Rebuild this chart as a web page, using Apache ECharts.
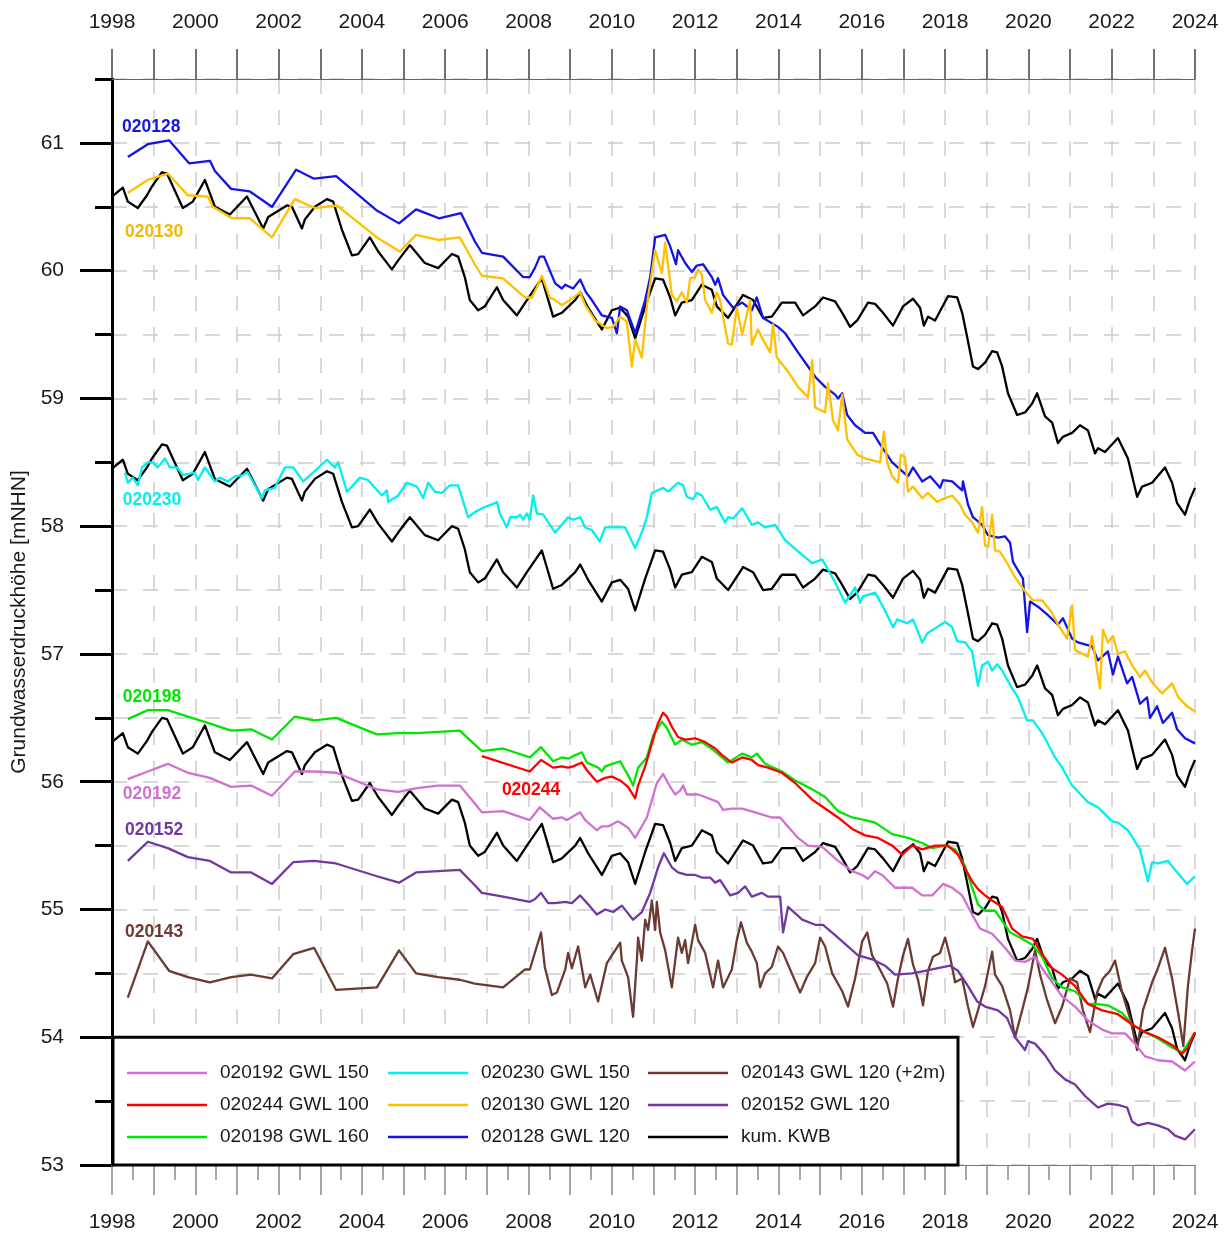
<!DOCTYPE html>
<html><head><meta charset="utf-8">
<script src="https://cdn.jsdelivr.net/npm/echarts@6/dist/echarts.min.js"></script>
<style>html,body{margin:0;padding:0;background:#fff}#c{width:1227px;height:1236px}</style>
</head><body><div id="c"></div>
<script>
const FONT = "'Liberation Sans', Arial, sans-serif";
const X_MIN = 1998, X_MAX = 2024, Y_MIN = 53, Y_MAX = 61.5;
const xLabelYears = [1998,2000,2002,2004,2006,2008,2010,2012,2014,2016,2018,2020,2022,2024];
const yTickLabels = [53,54,55,56,57,58,59,60,61];

// cumulative climatic water balance (plotted three times with offsets)
const kwb = [[1998.00,60.58],[1998.26,60.65],[1998.38,60.54],[1998.62,60.49],[1998.84,60.59],[1998.96,60.66],[1999.20,60.77],[1999.32,60.76],[1999.70,60.49],[1999.94,60.54],[2000.23,60.71],[2000.47,60.50],[2000.83,60.44],[2001.24,60.58],[2001.63,60.33],[2001.75,60.42],[2002.20,60.51],[2002.32,60.50],[2002.56,60.33],[2002.63,60.40],[2002.87,60.50],[2003.16,60.56],[2003.31,60.54],[2003.52,60.32],[2003.76,60.12],[2003.91,60.13],[2004.19,60.26],[2004.39,60.15],[2004.72,60.01],[2004.87,60.08],[2005.15,60.20],[2005.51,60.06],[2005.83,60.02],[2006.16,60.13],[2006.31,60.11],[2006.47,59.95],[2006.59,59.77],[2006.79,59.69],[2006.95,59.72],[2007.24,59.87],[2007.39,59.77],[2007.72,59.65],[2007.96,59.77],[2008.32,59.94],[2008.59,59.64],[2008.80,59.67],[2009.12,59.77],[2009.24,59.83],[2009.43,59.71],[2009.76,59.54],[2010.00,59.69],[2010.20,59.71],[2010.39,59.64],[2010.56,59.47],[2010.80,59.72],[2011.04,59.94],[2011.23,59.93],[2011.40,59.79],[2011.52,59.65],[2011.68,59.75],[2011.92,59.77],[2012.16,59.89],[2012.40,59.85],[2012.52,59.72],[2012.79,59.63],[2013.15,59.81],[2013.39,59.77],[2013.63,59.63],[2013.84,59.64],[2014.08,59.75],[2014.40,59.75],[2014.59,59.65],[2014.88,59.72],[2015.07,59.79],[2015.36,59.76],[2015.53,59.67],[2015.72,59.56],[2015.89,59.61],[2016.15,59.75],[2016.32,59.74],[2016.51,59.67],[2016.75,59.57],[2016.99,59.72],[2017.23,59.78],[2017.40,59.71],[2017.49,59.57],[2017.59,59.64],[2017.76,59.61],[2018.07,59.80],[2018.29,59.79],[2018.41,59.67],[2018.53,59.48],[2018.67,59.25],[2018.79,59.23],[2018.96,59.28],[2019.13,59.37],[2019.25,59.36],[2019.37,59.25],[2019.51,59.04],[2019.73,58.87],[2019.92,58.89],[2020.09,58.96],[2020.21,59.04],[2020.40,58.86],[2020.57,58.81],[2020.71,58.65],[2020.83,58.70],[2021.05,58.73],[2021.24,58.79],[2021.43,58.75],[2021.60,58.57],[2021.67,58.61],[2021.84,58.58],[2022.15,58.69],[2022.39,58.53],[2022.61,58.23],[2022.73,58.31],[2022.97,58.34],[2023.28,58.46],[2023.45,58.34],[2023.57,58.18],[2023.76,58.09],[2023.88,58.21],[2024.00,58.30]];
const kwbOffsets = [0, -2.13, -4.27];

const gw020128 = [[1998.38,60.89],[1998.86,60.99],[1999.37,61.02],[1999.85,60.84],[2000.35,60.86],[2000.47,60.78],[2000.86,60.64],[2001.31,60.62],[2001.84,60.50],[2002.42,60.79],[2002.85,60.72],[2003.38,60.74],[2004.36,60.47],[2004.89,60.37],[2005.30,60.48],[2005.85,60.41],[2006.38,60.45],[2006.71,60.23],[2006.88,60.14],[2007.39,60.11],[2007.87,59.95],[2008.03,59.95],[2008.15,60.02],[2008.27,60.11],[2008.37,60.11],[2008.64,59.90],[2008.80,59.86],[2008.88,59.89],[2009.07,59.86],[2009.24,59.93],[2009.38,59.83],[2009.52,59.77],[2009.76,59.65],[2010.00,59.63],[2010.12,59.51],[2010.20,59.72],[2010.36,59.69],[2010.56,59.51],[2010.80,59.77],[2010.92,59.95],[2011.04,60.26],[2011.28,60.28],[2011.40,60.19],[2011.54,60.05],[2011.59,60.16],[2011.76,60.06],[2011.92,59.99],[2012.04,60.04],[2012.19,60.05],[2012.40,59.95],[2012.48,59.89],[2012.55,59.94],[2012.67,59.81],[2012.91,59.71],[2013.13,59.75],[2013.36,59.69],[2013.48,59.79],[2013.63,59.63],[2013.99,59.56],[2014.16,59.51],[2014.47,59.36],[2014.71,59.25],[2014.88,59.17],[2015.12,59.09],[2015.36,59.03],[2015.43,59.00],[2015.53,59.04],[2015.65,58.87],[2015.84,58.79],[2016.08,58.73],[2016.27,58.73],[2016.44,58.64],[2016.73,58.50],[2017.11,58.39],[2017.23,58.46],[2017.45,58.35],[2017.64,58.39],[2017.88,58.30],[2017.95,58.36],[2018.17,58.35],[2018.41,58.28],[2018.43,58.35],[2018.55,58.17],[2018.67,58.07],[2018.89,58.01],[2019.03,57.93],[2019.27,57.91],[2019.44,57.92],[2019.56,57.87],[2019.63,57.72],[2019.87,57.59],[2019.97,57.17],[2020.04,57.41],[2020.23,57.37],[2020.45,57.31],[2020.71,57.23],[2020.83,57.28],[2021.05,57.12],[2021.19,57.09],[2021.53,57.06],[2021.67,56.95],[2021.91,57.02],[2022.03,56.84],[2022.15,56.98],[2022.37,56.77],[2022.49,56.82],[2022.68,56.61],[2022.85,56.66],[2022.92,56.50],[2023.09,56.59],[2023.23,56.46],[2023.45,56.54],[2023.57,56.41],[2023.76,56.34],[2024.00,56.30]];

const gw020130 = [[1998.38,60.61],[1998.86,60.71],[1999.34,60.76],[1999.82,60.59],[2000.30,60.58],[2000.42,60.50],[2000.88,60.41],[2001.31,60.41],[2001.84,60.26],[2002.39,60.56],[2002.87,60.49],[2003.40,60.51],[2004.36,60.26],[2004.91,60.15],[2005.30,60.28],[2005.83,60.24],[2006.35,60.26],[2006.71,60.05],[2006.88,59.96],[2007.39,59.94],[2007.91,59.79],[2008.08,59.79],[2008.20,59.87],[2008.32,59.96],[2008.51,59.79],[2008.63,59.77],[2008.80,59.73],[2008.95,59.76],[2009.24,59.83],[2009.36,59.73],[2009.60,59.61],[2009.88,59.55],[2010.03,59.56],[2010.20,59.64],[2010.36,59.60],[2010.48,59.25],[2010.56,59.46],[2010.72,59.32],[2010.84,59.72],[2011.04,60.16],[2011.20,59.98],[2011.28,60.22],[2011.44,59.81],[2011.56,59.76],[2011.68,59.83],[2011.80,59.75],[2011.88,59.94],[2012.00,59.95],[2012.07,60.01],[2012.16,59.97],[2012.24,59.77],[2012.40,59.67],[2012.52,59.83],[2012.60,59.77],[2012.67,59.64],[2012.79,59.43],[2012.88,59.42],[2013.00,59.71],[2013.13,59.50],[2013.32,59.77],[2013.36,59.42],[2013.51,59.54],[2013.63,59.46],[2013.80,59.36],[2013.87,59.58],[2013.96,59.32],[2014.23,59.21],[2014.47,59.09],[2014.71,59.01],[2014.81,59.30],[2014.88,58.93],[2015.12,58.89],[2015.19,59.12],[2015.31,58.83],[2015.43,58.75],[2015.53,59.03],[2015.65,58.68],[2015.89,58.56],[2016.08,58.53],[2016.44,58.50],[2016.53,58.74],[2016.61,58.50],[2016.73,58.39],[2016.87,58.34],[2016.94,58.56],[2017.04,58.54],[2017.11,58.27],[2017.23,58.31],[2017.45,58.22],[2017.59,58.26],[2017.81,58.19],[2017.93,58.21],[2018.17,58.24],[2018.36,58.17],[2018.48,58.09],[2018.65,58.03],[2018.79,57.95],[2018.89,58.15],[2018.96,57.85],[2019.03,57.84],[2019.13,58.09],[2019.20,57.81],[2019.32,57.80],[2019.49,57.71],[2019.68,57.60],[2019.92,57.49],[2020.11,57.42],[2020.33,57.42],[2020.57,57.32],[2020.71,57.23],[2020.93,57.12],[2021.05,57.38],[2021.12,57.03],[2021.43,56.98],[2021.53,57.14],[2021.65,56.87],[2021.72,56.73],[2021.79,57.19],[2021.91,57.09],[2022.03,57.14],[2022.15,57.00],[2022.32,57.02],[2022.49,56.91],[2022.68,56.82],[2022.80,56.87],[2022.99,56.77],[2023.21,56.69],[2023.45,56.77],[2023.60,56.66],[2023.81,56.59],[2024.00,56.55]];

const gw020230 = [[1998.31,58.42],[1998.38,58.34],[1998.50,58.38],[1998.62,58.32],[1998.72,58.46],[1998.86,58.50],[1998.98,58.50],[1999.10,58.46],[1999.27,58.53],[1999.39,58.46],[1999.56,58.46],[1999.70,58.40],[1999.99,58.42],[2000.06,58.36],[2000.23,58.46],[2000.47,58.35],[2000.59,58.38],[2000.78,58.35],[2000.95,58.39],[2001.14,58.40],[2001.26,58.42],[2001.38,58.35],[2001.60,58.22],[2001.67,58.28],[2001.91,58.30],[2002.15,58.46],[2002.35,58.46],[2002.59,58.35],[2002.83,58.42],[2003.16,58.52],[2003.35,58.46],[2003.43,58.50],[2003.64,58.27],[2003.76,58.31],[2003.95,58.38],[2004.15,58.36],[2004.48,58.24],[2004.60,58.28],[2004.63,58.19],[2004.87,58.24],[2005.08,58.34],[2005.32,58.31],[2005.47,58.22],[2005.59,58.34],[2005.75,58.27],[2005.92,58.26],[2006.11,58.32],[2006.31,58.32],[2006.55,58.07],[2006.71,58.11],[2006.95,58.15],[2007.12,58.17],[2007.24,58.19],[2007.31,58.10],[2007.48,57.99],[2007.56,58.07],[2007.72,58.07],[2007.80,58.09],[2007.87,58.05],[2007.96,58.10],[2008.03,58.05],[2008.11,58.24],[2008.20,58.10],[2008.35,58.09],[2008.64,57.95],[2008.95,58.07],[2009.07,58.05],[2009.24,58.07],[2009.36,57.99],[2009.52,57.97],[2009.71,57.88],[2009.84,57.99],[2010.00,57.99],[2010.32,57.99],[2010.56,57.83],[2010.72,57.95],[2010.84,58.07],[2010.96,58.26],[2011.23,58.30],[2011.35,58.27],[2011.59,58.34],[2011.71,58.32],[2011.80,58.23],[2011.95,58.21],[2012.04,58.26],[2012.16,58.24],[2012.36,58.13],[2012.52,58.15],[2012.60,58.10],[2012.72,58.03],[2012.79,58.07],[2012.91,58.06],[2013.13,58.14],[2013.36,58.01],[2013.51,58.03],[2013.68,57.99],[2013.92,58.01],[2014.16,57.89],[2014.44,57.81],[2014.81,57.71],[2015.05,57.74],[2015.19,57.66],[2015.36,57.56],[2015.60,57.40],[2015.84,57.52],[2015.96,57.40],[2016.03,57.45],[2016.32,57.48],[2016.51,57.37],[2016.75,57.21],[2016.85,57.27],[2017.09,57.24],[2017.23,57.27],[2017.45,57.09],[2017.57,57.16],[2017.76,57.20],[2018.00,57.25],[2018.17,57.21],[2018.29,57.10],[2018.48,57.09],[2018.65,57.02],[2018.79,56.75],[2018.89,56.91],[2019.03,56.94],[2019.13,56.87],[2019.25,56.92],[2019.37,56.87],[2019.61,56.73],[2019.75,56.66],[2019.97,56.48],[2020.11,56.48],[2020.35,56.37],[2020.64,56.19],[2020.81,56.11],[2021.05,55.97],[2021.43,55.84],[2021.67,55.80],[2022.01,55.69],[2022.15,55.68],[2022.39,55.62],[2022.68,55.47],[2022.87,55.22],[2022.97,55.37],[2023.11,55.36],[2023.35,55.38],[2023.52,55.31],[2023.81,55.20],[2024.00,55.26]];

const gw020198 = [[1998.38,56.49],[1998.86,56.56],[1999.34,56.56],[1999.82,56.51],[2000.30,56.46],[2000.86,56.40],[2001.34,56.41],[2001.84,56.33],[2002.39,56.51],[2002.85,56.48],[2003.38,56.50],[2004.36,56.37],[2004.87,56.38],[2005.32,56.38],[2005.83,56.39],[2006.35,56.40],[2006.71,56.29],[2006.88,56.24],[2007.39,56.26],[2008.03,56.19],[2008.30,56.27],[2008.59,56.16],[2008.80,56.19],[2008.95,56.18],[2009.07,56.20],[2009.28,56.23],[2009.40,56.15],[2009.67,56.11],[2009.76,56.08],[2009.84,56.12],[2010.20,56.16],[2010.39,56.05],[2010.51,55.97],[2010.63,56.11],[2010.84,56.19],[2010.99,56.36],[2011.20,56.47],[2011.32,56.42],[2011.52,56.29],[2011.68,56.33],[2011.92,56.29],[2012.16,56.31],[2012.43,56.25],[2012.79,56.15],[2013.13,56.22],[2013.36,56.19],[2013.48,56.22],[2013.68,56.14],[2014.08,56.08],[2014.40,56.01],[2014.81,55.94],[2015.12,55.88],[2015.43,55.77],[2015.77,55.72],[2016.08,55.70],[2016.32,55.68],[2016.73,55.59],[2017.11,55.56],[2017.45,55.52],[2017.69,55.48],[2018.00,55.50],[2018.24,55.47],[2018.48,55.34],[2018.65,55.17],[2018.79,55.04],[2018.96,54.99],[2019.20,54.99],[2019.37,54.91],[2019.56,54.82],[2019.85,54.77],[2020.11,54.72],[2020.33,54.63],[2020.57,54.46],[2020.81,54.39],[2021.12,54.36],[2021.43,54.26],[2021.67,54.26],[2021.91,54.25],[2022.25,54.19],[2022.49,54.10],[2022.80,54.04],[2023.11,53.99],[2023.45,53.92],[2023.69,53.88],[2023.83,53.95],[2024.00,54.04]];

const gw020244 = [[2006.88,56.20],[2008.03,56.08],[2008.30,56.17],[2008.59,56.11],[2008.80,56.12],[2008.95,56.11],[2009.07,56.12],[2009.28,56.15],[2009.40,56.09],[2009.64,56.00],[2009.84,56.03],[2010.00,56.04],[2010.20,56.01],[2010.39,55.96],[2010.56,55.87],[2010.63,55.97],[2010.80,56.12],[2010.96,56.30],[2011.11,56.46],[2011.23,56.54],[2011.32,56.51],[2011.44,56.43],[2011.59,56.35],[2011.76,56.33],[2012.00,56.34],[2012.24,56.31],[2012.48,56.26],[2012.64,56.21],[2012.88,56.15],[2013.13,56.19],[2013.36,56.17],[2013.51,56.13],[2013.75,56.11],[2014.08,56.07],[2014.40,55.99],[2014.81,55.86],[2015.12,55.79],[2015.43,55.72],[2015.77,55.63],[2016.08,55.58],[2016.39,55.56],[2016.73,55.50],[2016.97,55.43],[2017.21,55.50],[2017.45,55.47],[2017.76,55.50],[2018.07,55.50],[2018.31,55.43],[2018.48,55.32],[2018.65,55.22],[2018.79,55.16],[2018.96,55.11],[2019.13,55.07],[2019.37,55.02],[2019.61,54.85],[2019.85,54.79],[2020.11,54.77],[2020.33,54.65],[2020.57,54.54],[2020.81,54.49],[2021.12,54.40],[2021.43,54.26],[2021.77,54.21],[2022.15,54.18],[2022.49,54.10],[2022.80,54.04],[2023.11,54.00],[2023.45,53.94],[2023.69,53.87],[2023.83,53.92],[2024.00,54.04]];

const gw020192 = [[1998.38,56.02],[1998.86,56.08],[1999.34,56.14],[1999.82,56.07],[2000.35,56.03],[2000.86,55.96],[2001.34,55.97],[2001.84,55.89],[2002.39,56.08],[2002.85,56.08],[2003.38,56.07],[2004.36,55.94],[2004.87,55.92],[2005.32,55.95],[2005.83,55.97],[2006.35,55.97],[2006.71,55.83],[2006.88,55.76],[2007.39,55.77],[2008.03,55.70],[2008.27,55.80],[2008.59,55.71],[2008.80,55.72],[2008.92,55.70],[2009.24,55.76],[2009.36,55.70],[2009.64,55.62],[2009.76,55.65],[2009.91,55.65],[2010.15,55.69],[2010.39,55.64],[2010.56,55.56],[2010.84,55.72],[2011.08,55.99],[2011.23,56.06],[2011.40,55.96],[2011.52,55.90],[2011.64,55.93],[2011.71,55.97],[2011.80,55.90],[2012.07,55.90],[2012.24,55.88],[2012.55,55.84],[2012.67,55.78],[2012.88,55.79],[2013.13,55.79],[2013.44,55.76],[2013.84,55.72],[2014.04,55.72],[2014.20,55.66],[2014.47,55.56],[2014.71,55.50],[2015.05,55.49],[2015.43,55.38],[2015.77,55.30],[2016.01,55.27],[2016.15,55.24],[2016.32,55.30],[2016.49,55.27],[2016.80,55.17],[2017.21,55.17],[2017.45,55.11],[2017.69,55.11],[2017.95,55.20],[2018.17,55.17],[2018.41,55.11],[2018.65,54.96],[2018.84,54.85],[2019.13,54.81],[2019.44,54.70],[2019.68,54.60],[2019.92,54.59],[2020.16,54.63],[2020.33,54.54],[2020.57,54.43],[2020.81,54.32],[2021.12,54.24],[2021.43,54.13],[2021.77,54.06],[2022.01,54.03],[2022.32,54.03],[2022.56,53.95],[2022.80,53.85],[2023.11,53.82],[2023.45,53.81],[2023.76,53.74],[2024.00,53.81]];

const gw020152 = [[1998.38,55.38],[1998.86,55.53],[1999.34,55.48],[1999.82,55.41],[2000.35,55.38],[2000.86,55.29],[2001.34,55.29],[2001.84,55.20],[2002.35,55.37],[2002.85,55.38],[2003.38,55.36],[2004.36,55.26],[2004.89,55.21],[2005.30,55.29],[2005.83,55.30],[2006.35,55.31],[2006.71,55.19],[2006.88,55.13],[2007.39,55.10],[2008.03,55.06],[2008.15,55.08],[2008.30,55.13],[2008.47,55.05],[2008.63,55.05],[2008.88,55.06],[2009.04,55.05],[2009.24,55.11],[2009.43,55.04],[2009.64,54.96],[2009.84,55.00],[2010.03,54.98],[2010.24,55.03],[2010.51,54.92],[2010.72,54.98],[2010.92,55.13],[2011.11,55.33],[2011.25,55.44],[2011.44,55.33],[2011.59,55.29],[2011.80,55.27],[2012.00,55.27],[2012.16,55.25],[2012.36,55.25],[2012.48,55.21],[2012.60,55.23],[2012.84,55.11],[2013.03,55.13],[2013.20,55.18],[2013.36,55.10],[2013.60,55.13],[2013.75,55.10],[2014.04,55.10],[2014.11,54.82],[2014.23,55.02],[2014.57,54.92],[2014.88,54.88],[2015.07,54.88],[2015.36,54.80],[2015.53,54.75],[2015.91,54.64],[2016.25,54.61],[2016.56,54.56],[2016.80,54.49],[2017.21,54.50],[2017.52,54.52],[2017.83,54.54],[2018.12,54.56],[2018.31,54.52],[2018.55,54.40],[2018.77,54.28],[2018.96,54.24],[2019.27,54.21],[2019.49,54.15],[2019.68,54.00],[2019.92,53.90],[2019.99,53.97],[2020.16,53.95],[2020.40,53.86],[2020.64,53.74],[2020.88,53.67],[2021.12,53.63],[2021.36,53.54],[2021.53,53.49],[2021.67,53.45],[2021.91,53.48],[2022.15,53.47],[2022.37,53.45],[2022.49,53.34],[2022.63,53.31],[2022.87,53.33],[2023.11,53.31],[2023.35,53.28],[2023.52,53.23],[2023.76,53.20],[2024.00,53.28]];

const gw020143 = [[1998.38,54.31],[1998.86,54.75],[1999.37,54.52],[1999.82,54.47],[2000.35,54.43],[2000.86,54.47],[2001.34,54.49],[2001.84,54.46],[2002.35,54.65],[2002.85,54.70],[2003.38,54.37],[2004.36,54.39],[2004.89,54.68],[2005.30,54.50],[2005.83,54.47],[2006.35,54.45],[2006.71,54.42],[2007.39,54.39],[2007.91,54.53],[2008.03,54.53],[2008.30,54.82],[2008.39,54.55],[2008.56,54.33],[2008.68,54.35],[2008.88,54.53],[2008.95,54.66],[2009.04,54.54],[2009.19,54.71],[2009.36,54.39],[2009.48,54.49],[2009.67,54.28],[2009.88,54.58],[2010.20,54.74],[2010.24,54.60],[2010.39,54.47],[2010.51,54.16],[2010.60,54.60],[2010.63,54.78],[2010.72,54.60],[2010.80,54.92],[2010.87,54.84],[2010.96,55.07],[2011.04,54.84],[2011.08,55.06],[2011.16,54.82],[2011.28,54.68],[2011.44,54.39],[2011.59,54.78],[2011.68,54.66],[2011.76,54.76],[2011.83,54.58],[2012.00,54.88],[2012.07,54.76],[2012.24,54.66],[2012.43,54.39],[2012.55,54.60],[2012.67,54.39],[2012.88,54.53],[2013.00,54.76],[2013.10,54.90],[2013.24,54.74],[2013.36,54.67],[2013.48,54.58],[2013.56,54.39],[2013.68,54.50],[2013.84,54.55],[2013.99,54.71],[2014.11,54.66],[2014.28,54.53],[2014.52,54.35],[2014.68,54.47],[2014.88,54.58],[2015.00,54.78],[2015.12,54.71],[2015.29,54.50],[2015.53,54.36],[2015.67,54.24],[2015.84,54.46],[2016.01,54.75],[2016.13,54.82],[2016.25,54.64],[2016.39,54.56],[2016.61,54.42],[2016.75,54.24],[2016.87,54.46],[2016.99,54.64],[2017.11,54.77],[2017.23,54.57],[2017.35,54.45],[2017.47,54.25],[2017.59,54.52],[2017.71,54.63],[2017.88,54.66],[2018.00,54.78],[2018.12,54.63],[2018.24,54.43],[2018.41,54.46],[2018.55,54.24],[2018.67,54.08],[2018.79,54.21],[2018.96,54.40],[2019.13,54.67],[2019.20,54.49],[2019.37,54.40],[2019.56,54.21],[2019.68,54.00],[2019.85,54.21],[2019.99,54.39],[2020.16,54.68],[2020.28,54.49],[2020.45,54.29],[2020.64,54.11],[2020.81,54.24],[2021.00,54.46],[2021.17,54.43],[2021.31,54.21],[2021.48,54.04],[2021.65,54.35],[2021.79,54.46],[2021.96,54.52],[2022.08,54.60],[2022.25,54.35],[2022.44,54.15],[2022.61,53.90],[2022.75,54.21],[2022.97,54.43],[2023.11,54.54],[2023.28,54.70],[2023.45,54.46],[2023.60,54.18],[2023.72,53.93],[2023.83,54.40],[2023.93,54.68],[2024.00,54.85]];

// series styles (draw order: first = bottom)
const seriesDefs = [
  {name:'kum. KWB', data:kwb, color:'#000000', kwb:true},
  {name:'020143 GWL 120 (+2m)', data:gw020143, color:'#6b3a32'},
  {name:'020152 GWL 120', data:gw020152, color:'#7038a0'},
  {name:'020192 GWL 150', data:gw020192, color:'#d070d0'},
  {name:'020230 GWL 150', data:gw020230, color:'#00f0f0'},
  {name:'020128 GWL 120', data:gw020128, color:'#1414e8'},
  {name:'020130 GWL 120', data:gw020130, color:'#ffc000'},
  {name:'020198 GWL 160', data:gw020198, color:'#00e600'},
  {name:'020244 GWL 100', data:gw020244, color:'#ff0000'}
];
const legendColumns = [
  ['020192 GWL 150','020244 GWL 100','020198 GWL 160'],
  ['020230 GWL 150','020130 GWL 120','020128 GWL 120'],
  ['020143 GWL 120 (+2m)','020152 GWL 120','kum. KWB']
];
const legendColumnLeft = [127, 388, 648];
const wellLabels = [
  {text:'020128', color:'#1414e8', at:[1998.24, 61.12]},
  {text:'020130', color:'#f5b800', at:[1998.31, 60.30]},
  {text:'020230', color:'#00f0f0', at:[1998.26, 58.20]},
  {text:'020198', color:'#00e600', at:[1998.26, 56.66]},
  {text:'020192', color:'#d070d0', at:[1998.26, 55.90]},
  {text:'020152', color:'#7038a0', at:[1998.31, 55.62]},
  {text:'020143', color:'#6b3a32', at:[1998.31, 54.82]},
  {text:'020244', color:'#ff0000', at:[2007.36, 55.93]}
];
const legendBoxCorners = [[1998, 54], [2018.31, 53]];

const series = [];
seriesDefs.forEach(d => {
  const copies = d.kwb ? kwbOffsets : [0];
  copies.forEach(off => {
    series.push({
      type:'line', name:d.name, xAxisIndex:0, yAxisIndex:0,
      data: off === 0 ? d.data : d.data.map(p => [p[0], +(p[1] + off).toFixed(2)]),
      showSymbol:false, symbol:'none', silent:true,
      lineStyle:{color:d.color, width:2.3, join:'round'}, itemStyle:{color:d.color},
      z: 2
    });
  });
});

const gridRect = {left:112, top:79, right:32, bottom:71};
const chart = echarts.init(document.getElementById('c'), null, {renderer:'canvas'});
const yearFmt = v => (Math.round(v) % 2 === 0 ? String(Math.round(v)) : '');

chart.setOption({
  animation:false,
  backgroundColor:'#ffffff',
  textStyle:{fontFamily:FONT},
  grid:[Object.assign({}, gridRect), Object.assign({}, gridRect)],
  xAxis:[
    {type:'value', gridIndex:0, position:'bottom', min:X_MIN, max:X_MAX, interval:1,
     axisLine:{show:true, onZero:false, lineStyle:{color:'#777', width:1}},
     axisTick:{show:true, length:30, lineStyle:{color:'#8a8a8a', width:1.5}},
     minorTick:{show:true, splitNumber:2, length:15, lineStyle:{color:'#8a8a8a', width:1.5}},
     axisLabel:{formatter:yearFmt, fontSize:21, color:'#1a1a1a', margin:47, fontFamily:FONT, showMinLabel:true, showMaxLabel:true},
     splitLine:{show:true, lineStyle:{type:[15,16], color:'#cdcdcd', width:1.5}}},
    {type:'value', gridIndex:0, position:'top', min:X_MIN, max:X_MAX, interval:1,
     axisLine:{show:true, onZero:false, lineStyle:{color:'#666', width:1}},
     axisTick:{show:true, length:30, lineStyle:{color:'#444', width:1.5}},
     axisLabel:{formatter:yearFmt, fontSize:21, color:'#1a1a1a', margin:46, fontFamily:FONT, showMinLabel:true, showMaxLabel:true},
     splitLine:{show:false}},
    {type:'value', gridIndex:1, min:X_MIN, max:X_MAX, show:false}
  ],
  yAxis:[
    {type:'value', gridIndex:0, position:'left', min:Y_MIN, max:Y_MAX, interval:0.5,
     axisLine:{show:true, onZero:false, lineStyle:{color:'#000', width:3}},
     axisTick:{show:true, length:17, lineStyle:{color:'#000', width:3}},
     axisLabel:{show:false},
     splitLine:{show:true, lineStyle:{type:[15,16], color:'#cdcdcd', width:1.5}}},
    {type:'value', gridIndex:1, position:'left', min:Y_MIN, max:Y_MAX,
     axisLine:{show:false},
     axisTick:{show:true, length:32, customValues:yTickLabels, lineStyle:{color:'#000', width:3}},
     axisLabel:{show:true, customValues:yTickLabels, fontSize:21, color:'#1a1a1a', margin:48, fontFamily:FONT},
     splitLine:{show:false},
     name:'Grundwasserdruckhöhe [mNHN]', nameLocation:'middle', nameGap:80,
     nameTextStyle:{fontSize:21, color:'#1a1a1a', fontFamily:FONT}}
  ],
  legend: legendColumns.map((col, i) => ({
    orient:'vertical', left:legendColumnLeft[i], top:1063, padding:0,
    itemWidth:80, itemHeight:14, itemGap:12, selectedMode:false, z:20,
    itemStyle:{borderWidth:0},
    data: col.map(n => ({name:n, icon:'path://M0,6.3L80,6.3L80,8.7L0,8.7Z'})),
    textStyle:{fontSize:19, color:'#1a1a1a', fontFamily:FONT, lineHeight:20, padding:[0,0,0,8]}
  })),
  series: series
});

// annotation: legend frame and well labels positioned in data coordinates
const p0 = chart.convertToPixel({xAxisIndex:0, yAxisIndex:0}, legendBoxCorners[0]);
const p1 = chart.convertToPixel({xAxisIndex:0, yAxisIndex:0}, legendBoxCorners[1]);
const graphics = [{
  type:'rect', z:10, silent:true,
  shape:{x:p0[0]+1, y:p0[1], width:p1[0]-p0[0]-1, height:p1[1]-p0[1]},
  style:{fill:'#ffffff', stroke:'#000', lineWidth:3}
}];
wellLabels.forEach(l => {
  const p = chart.convertToPixel({xAxisIndex:0, yAxisIndex:0}, l.at);
  graphics.push({type:'text', z:10, silent:true, x:p[0], y:p[1],
    style:{text:l.text, fill:l.color, font:'bold 17.5px ' + FONT, textVerticalAlign:'middle', textAlign:'left'}});
});
chart.setOption({graphic:graphics});
</script>
</body></html>
